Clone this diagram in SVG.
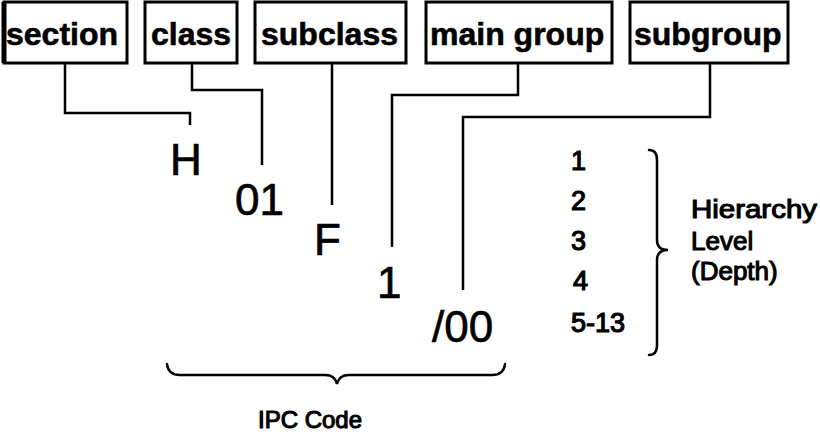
<svg xmlns="http://www.w3.org/2000/svg" width="820" height="440" viewBox="0 0 820 440">
<style>
.box{fill:#fff;stroke:#000;stroke-width:3}
.lbl{font-family:"Liberation Sans",Arial,sans-serif;font-weight:bold;font-size:32px;fill:#000;stroke:#000;stroke-width:0.6}
.code{font-family:"Liberation Sans",Arial,sans-serif;font-size:44px;fill:#000;stroke:#000;stroke-width:0.7}
.num{font-family:"Liberation Sans",Arial,sans-serif;font-size:27px;fill:#000;stroke:#000;stroke-width:1.2}
.side{font-family:"Liberation Sans",Arial,sans-serif;font-size:26px;fill:#000;stroke:#000;stroke-width:1.1}
.conn{fill:none;stroke:#000;stroke-width:2.5;stroke-linejoin:miter}
.brace{fill:none;stroke:#000;stroke-width:2.5;stroke-linecap:round}
</style>
<rect width="820" height="440" fill="#fff"/>
<g id="connectors">
<path class="conn" d="M65,63 V113 H190 V125"/>
<path class="conn" d="M192,63 V90 H262 V165"/>
<path class="conn" d="M332,63 V205"/>
<path class="conn" d="M518,63 V95 H392 V247"/>
<path class="conn" d="M710,63 V117 H463 V290"/>
</g>
<g id="section"><rect class="box" x="4" y="2" width="123" height="61"/><line x1="4" y1="2" x2="4" y2="63" stroke="#000" stroke-width="5"/><text class="lbl" x="6" y="45">section</text></g>
<g id="class"><rect class="box" x="145" y="2" width="92" height="61"/><text class="lbl" x="151" y="45">class</text></g>
<g id="subclass"><rect class="box" x="255" y="2" width="151" height="61"/><text class="lbl" x="261" y="45">subclass</text></g>
<g id="main-group"><rect class="box" x="426" y="2" width="186" height="61"/><text class="lbl" x="430" y="45">main group</text></g>
<g id="subgroup"><rect class="box" x="630" y="2" width="158" height="61"/><text class="lbl" x="634" y="45">subgroup</text></g>
<g id="code">
<text class="code" x="170" y="175">H</text>
<text class="code" x="235" y="215">01</text>
<text class="code" x="314" y="255">F</text>
<text class="code" x="377" y="298">1</text>
<text class="code" x="432" y="342">/00</text>
</g>
<g id="levels">
<text class="num" x="571" y="170">1</text>
<text class="num" x="571" y="210">2</text>
<text class="num" x="571" y="250">3</text>
<text class="num" x="573" y="290">4</text>
<text class="num" x="571" y="332">5-13</text>
<path class="brace" d="M649,150 Q657,150 657,160 L657,240 Q657,250 668,250 Q657,250 657,260 L657,345 Q657,355 649,355"/>
<text class="side" x="691" y="218" textLength="126" lengthAdjust="spacingAndGlyphs">Hierarchy</text>
<text class="side" x="691" y="250">Level</text>
<text class="side" x="691" y="280">(Depth)</text>
</g>
<g id="ipc">
<path class="brace" d="M167,364 Q168,375 180,375 L325,375 Q335,375 337,384 Q339,375 349,375 L492,375 Q504,375 505,364"/>
<text class="side" x="310" y="428" text-anchor="middle" style="font-size:24px">IPC Code</text>
</g>
</svg>
